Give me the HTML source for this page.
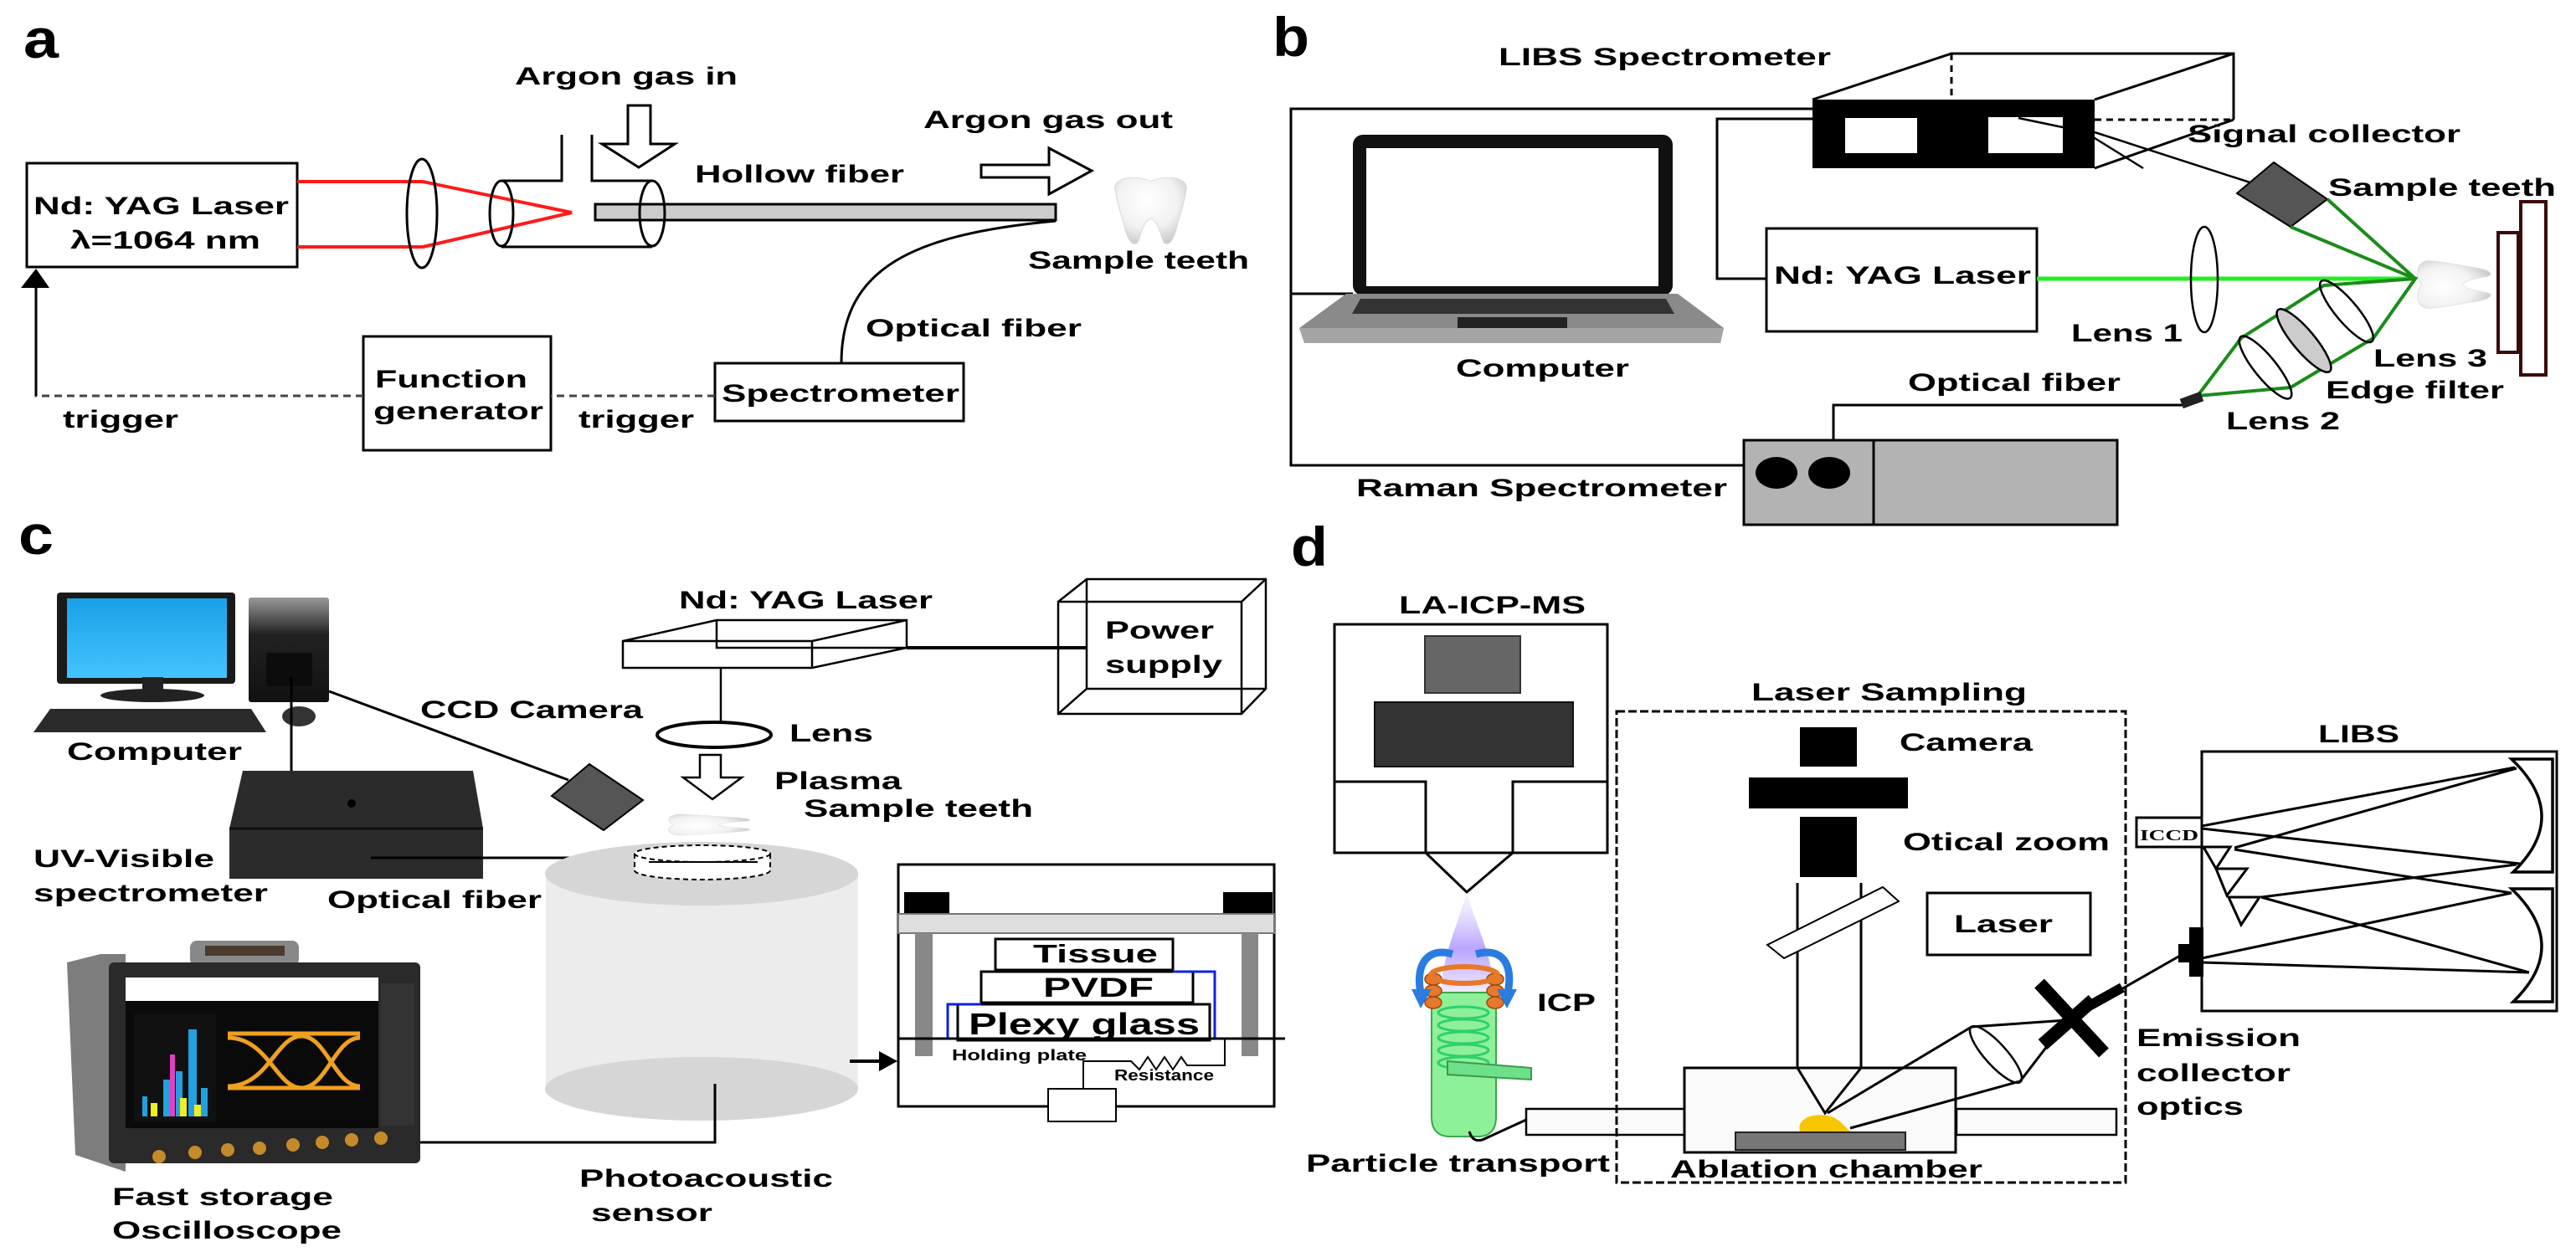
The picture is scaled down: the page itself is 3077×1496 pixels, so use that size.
<!DOCTYPE html>
<html><head><meta charset="utf-8">
<style>
html,body{margin:0;padding:0;background:#fff;}
svg{display:block;}
text{font-family:"Liberation Sans",Arial,sans-serif;font-weight:bold;fill:#000;}
</style></head>
<body>
<svg width="3077" height="1496" viewBox="0 0 3077 1496" xmlns="http://www.w3.org/2000/svg">
<defs>
<radialGradient id="toothG" cx="45%" cy="35%" r="70%">
<stop offset="0" stop-color="#ffffff"/><stop offset="0.6" stop-color="#f2f2f2"/><stop offset="1" stop-color="#c8c8c8"/>
</radialGradient>
<linearGradient id="plasmaG" x1="0" y1="0" x2="0" y2="1">
<stop offset="0" stop-color="#e8e0ff" stop-opacity="0.3"/><stop offset="0.5" stop-color="#b9a4ff"/><stop offset="1" stop-color="#ffffff"/>
</linearGradient>
<linearGradient id="towerG" x1="0" y1="0" x2="0" y2="1">
<stop offset="0" stop-color="#9a9a9a"/><stop offset="0.35" stop-color="#222"/><stop offset="1" stop-color="#111"/>
</linearGradient>
<linearGradient id="screenG" x1="0" y1="0" x2="0" y2="1">
<stop offset="0" stop-color="#1aa0e8"/><stop offset="1" stop-color="#44c4ff"/>
</linearGradient>
<path id="tooth" d="M10,22 C4,2 34,-2 50,8 C66,-2 96,2 90,22 C88,40 84,52 80,70 C77,90 70,100 65,94 C61,84 60,66 50,60 C40,66 39,84 35,94 C30,100 23,90 20,70 C16,52 12,40 10,22 Z"/>
</defs>

<g fill="none" stroke="#000" stroke-width="3">
<!-- ================= PANEL A ================= -->
<rect x="32" y="195" width="323" height="124"/>
<polyline points="355,217 505,217 683,254 505,295 355,295" stroke="#ff1a1a" stroke-width="4"/>
<ellipse cx="504" cy="255" rx="18" ry="65"/>
<!-- tube -->
<path d="M599,216 H671 V161 M707,161 V216 H779 M599,295 H779"/>
<ellipse cx="599" cy="255" rx="14" ry="39"/>
<rect x="711" y="244" width="550" height="19" fill="#cccccc"/>
<ellipse cx="779" cy="255" rx="15" ry="39"/>
<polygon points="750,126 777,126 777,172 806,172 763,200 719,172 750,172" fill="#fff"/>
<polygon points="1172,197 1253,197 1253,177 1304,204 1253,232 1253,212 1172,212" fill="#fff"/>
<path d="M1261,264 C1090,280 1005,320 1005,434"/>
<rect x="854" y="434" width="297" height="69"/>
<rect x="434" y="402" width="224" height="136"/>
<path d="M854,473 H658 M434,473 H43 V340" stroke="#444" stroke-dasharray="9,6"/>
<path d="M43,473 V340"/>
</g>
<polygon points="25,344 59,344 43,321" fill="#000"/>
<use href="#tooth" transform="translate(1322,210) scale(1.05,0.85)" fill="url(#toothG)" stroke="#d8d8d8" stroke-width="1"/>

<text x="28" y="69" font-size="66" textLength="42" lengthAdjust="spacingAndGlyphs">a</text>
<text x="40" y="256" font-size="30" textLength="305" lengthAdjust="spacingAndGlyphs">Nd: YAG Laser</text>
<text x="84" y="297" font-size="30" textLength="227" lengthAdjust="spacingAndGlyphs">λ=1064 nm</text>
<text x="615" y="101" font-size="30" textLength="266" lengthAdjust="spacingAndGlyphs">Argon gas in</text>
<text x="830" y="218" font-size="30" textLength="250" lengthAdjust="spacingAndGlyphs">Hollow fiber</text>
<text x="1103" y="153" font-size="30" textLength="298" lengthAdjust="spacingAndGlyphs">Argon gas out</text>
<text x="1228" y="321" font-size="30" textLength="264" lengthAdjust="spacingAndGlyphs">Sample teeth</text>
<text x="1034" y="402" font-size="30" textLength="258" lengthAdjust="spacingAndGlyphs">Optical fiber</text>
<text x="862" y="480" font-size="30" textLength="284" lengthAdjust="spacingAndGlyphs">Spectrometer</text>
<text x="448" y="463" font-size="30" textLength="182" lengthAdjust="spacingAndGlyphs">Function</text>
<text x="446" y="501" font-size="30" textLength="203" lengthAdjust="spacingAndGlyphs">generator</text>
<text x="75" y="511" font-size="30" textLength="138" lengthAdjust="spacingAndGlyphs">trigger</text>
<text x="691" y="511" font-size="30" textLength="138" lengthAdjust="spacingAndGlyphs">trigger</text>

<!-- ================= PANEL B ================= -->
<g fill="none" stroke="#000" stroke-width="3">
<path d="M2165,130 H1542 V556 H2122 M1542,351 H1616"/>
<path d="M2165,142 H2051 V333 H2110"/>
<path d="M2190,553 V484 H2608"/>
<rect x="2110" y="273" width="323" height="123"/>
<!-- 3D box -->
<path d="M2165,119 L2331,64 H2668 V143 M2502,119 L2668,64 M2502,201 L2668,143"/>
<path d="M2331,64 V119 M2502,143 H2668" stroke-dasharray="8,6"/>
<path d="M2502,158 L2700,222" stroke-width="2.5"/>
<path d="M2420,143 L2502,165 L2560,201" stroke-width="2.5"/>
</g>
<rect x="2165" y="119" width="337" height="82" fill="#000"/>
<rect x="2204" y="141" width="86" height="42" fill="#fff"/>
<rect x="2375" y="140" width="89" height="43" fill="#fff"/>
<line x1="2411" y1="141" x2="2502" y2="160" stroke="#000" stroke-width="2.5"/>
<polygon points="2672,231 2716,194 2780,238 2736,271" fill="#555" stroke="#000" stroke-width="2"/>
<!-- laptop -->
<rect x="1616" y="161" width="382" height="192" rx="12" fill="#111"/>
<rect x="1632" y="177" width="349" height="165" fill="#fff"/>
<path d="M1608,351 H2004 L2059,392 L2055,410 H1558 L1552,392 Z" fill="#8a8a8a"/>
<path d="M1552,392 H2059 L2055,410 H1558 Z" fill="#a5a5a5"/>
<path d="M1625,357 H1990 L2000,375 H1615 Z" fill="#333"/>
<rect x="1741" y="379" width="131" height="13" fill="#222"/>
<!-- raman -->
<rect x="2083" y="526" width="446" height="101" fill="#b3b3b3" stroke="#000" stroke-width="3"/>
<line x1="2238" y1="526" x2="2238" y2="627" stroke="#000" stroke-width="3"/>
<ellipse cx="2122" cy="565" rx="25" ry="19" fill="#000"/>
<ellipse cx="2185" cy="565" rx="25" ry="19" fill="#000"/>
<!-- optics -->
<line x1="2433" y1="333" x2="2885" y2="333" stroke="#22ee22" stroke-width="5"/>
<ellipse cx="2633" cy="334" rx="16" ry="63" fill="none" stroke="#000" stroke-width="2.5"/>
<g stroke="#1a8c1a" stroke-width="4" fill="none">
<path d="M2780,238 L2885,333 L2736,271"/>
<path d="M2885,333 L2776,341 L2677,404 L2625,473 L2736,463 L2835,404 Z"/>
</g>
<g fill="none" stroke="#000" stroke-width="2.5">
<ellipse cx="2803" cy="372" rx="47" ry="13" transform="rotate(50 2803 372)"/>
<ellipse cx="2752" cy="407" rx="48" ry="13" transform="rotate(50 2752 407)" fill="#cccccc"/>
<ellipse cx="2706" cy="439" rx="47" ry="13" transform="rotate(51 2706 439)"/>
</g>
<rect x="2605" y="472" width="26" height="12" fill="#222" transform="rotate(-20 2618 478)"/>
<rect x="3011" y="241" width="30" height="207" fill="#fff" stroke="#3a0a0a" stroke-width="4"/>
<rect x="2984" y="278" width="24" height="143" fill="#fff" stroke="#3a0a0a" stroke-width="4"/>
<use href="#tooth" transform="translate(2885,375) rotate(-90) scale(0.7,0.94)" fill="url(#toothG)" stroke="#ddd" stroke-width="1"/>

<text x="1520" y="67" font-size="66" textLength="44" lengthAdjust="spacingAndGlyphs">b</text>
<text x="1790" y="78" font-size="30" textLength="397" lengthAdjust="spacingAndGlyphs">LIBS Spectrometer</text>
<text x="1739" y="450" font-size="30" textLength="207" lengthAdjust="spacingAndGlyphs">Computer</text>
<text x="1620" y="593" font-size="30" textLength="443" lengthAdjust="spacingAndGlyphs">Raman Spectrometer</text>
<text x="2119" y="339" font-size="30" textLength="307" lengthAdjust="spacingAndGlyphs">Nd: YAG Laser</text>
<text x="2613" y="170" font-size="30" textLength="326" lengthAdjust="spacingAndGlyphs">Signal collector</text>
<text x="2781" y="234" font-size="30" textLength="272" lengthAdjust="spacingAndGlyphs">Sample teeth</text>
<text x="2474" y="408" font-size="30" textLength="133" lengthAdjust="spacingAndGlyphs">Lens 1</text>
<text x="2279" y="467" font-size="30" textLength="254" lengthAdjust="spacingAndGlyphs">Optical fiber</text>
<text x="2835" y="438" font-size="30" textLength="136" lengthAdjust="spacingAndGlyphs">Lens 3</text>
<text x="2778" y="476" font-size="30" textLength="213" lengthAdjust="spacingAndGlyphs">Edge filter</text>
<text x="2659" y="513" font-size="30" textLength="136" lengthAdjust="spacingAndGlyphs">Lens 2</text>

<!-- ================= PANEL C ================= -->
<!-- computer -->
<rect x="68" y="708" width="213" height="109" rx="4" fill="#1a1a1a"/>
<rect x="80" y="715" width="191" height="95" fill="url(#screenG)"/>
<rect x="170" y="809" width="25" height="17" fill="#222"/>
<ellipse cx="182" cy="831" rx="62" ry="8" fill="#222"/>
<path d="M60,847 H300 L318,875 H40 Z" fill="#2a2a2a"/>
<rect x="297" y="714" width="96" height="125" rx="3" fill="url(#towerG)"/>
<rect x="318" y="780" width="55" height="40" fill="#0c0c0c"/>
<ellipse cx="357" cy="856" rx="20" ry="12" fill="#333"/>
<g stroke="#000" stroke-width="3" fill="none">
<line x1="348" y1="809" x2="348" y2="924"/>
<line x1="393" y1="826" x2="679" y2="932"/>
</g>
<polygon points="659,951 704,913 768,956 721,992" fill="#555" stroke="#000" stroke-width="2"/>
<!-- UV spectrometer -->
<path d="M290,921 H565 L577,990 V1050 H274 V990 Z" fill="#2b2b2b"/>
<path d="M274,990 H577" stroke="#111" stroke-width="3"/>
<circle cx="420" cy="960" r="5" fill="#000"/>
<line x1="443" y1="1025" x2="761" y2="1025" stroke="#000" stroke-width="3"/>
<!-- laser 3D -->
<g fill="none" stroke="#000" stroke-width="2.5">
<path d="M744,766 L856,741 H1083 V774 L970,798 H744 Z M744,766 H970 L1083,741 M970,766 V798 M856,741 V774 H1083"/>
<line x1="1083" y1="774" x2="1298" y2="774" stroke-width="4"/>
<line x1="861" y1="798" x2="861" y2="862"/>
<ellipse cx="853" cy="878" rx="68" ry="15" stroke-width="4"/>
<path d="M1264,719 L1298,692 H1512 V823 L1483,853 H1264 Z M1264,719 H1483 L1512,692 M1483,719 V853 M1298,692 V823 H1512 M1264,853 L1298,823"/>
<polygon points="836,902 861,902 861,929 886,929 851,955 816,929 836,929" fill="#fff"/>
</g>
<use href="#tooth" transform="translate(796,1001) rotate(-90) scale(0.31,1.04)" fill="url(#toothG)" stroke="#ddd" stroke-width="1"/>
<!-- cylinder -->
<path d="M652,1044 V1301 A187,38 0 0 0 1025,1301 V1044 Z" fill="#ececec"/>
<ellipse cx="838" cy="1044" rx="187" ry="38" fill="#d6d6d6"/>
<ellipse cx="838" cy="1301" rx="187" ry="38" fill="#d6d6d6"/>
<path d="M758,1020 V1040 A81,11 0 0 0 920,1040 V1020" fill="#fff" stroke="#000" stroke-width="2" stroke-dasharray="6,4"/>
<ellipse cx="839" cy="1020" rx="81" ry="10" fill="#fff" stroke="#000" stroke-width="2" stroke-dasharray="6,4"/>
<line x1="775" y1="1030" x2="905" y2="1030" stroke="#000" stroke-width="2"/>
<path d="M854,1295 V1365 H194" fill="none" stroke="#000" stroke-width="3"/>
<!-- oscilloscope -->
<path d="M80,1150 L120,1140 L150,1140 V1400 L90,1380 Z" fill="#7d7d7d"/>
<rect x="227" y="1124" width="130" height="30" rx="8" fill="#888"/>
<rect x="245" y="1130" width="95" height="12" fill="#4a3a30"/>
<rect x="130" y="1150" width="372" height="240" rx="6" fill="#2a2a2a"/>
<rect x="150" y="1168" width="302" height="180" fill="#0a0a0a"/>
<rect x="150" y="1168" width="302" height="28" fill="#fff"/>
<rect x="160" y="1212" width="98" height="128" fill="#111"/>
<g fill="#22a0e0"><rect x="225" y="1230" width="10" height="104"/><rect x="210" y="1280" width="8" height="54"/><rect x="195" y="1290" width="8" height="44"/><rect x="170" y="1310" width="6" height="24"/><rect x="240" y="1300" width="8" height="34"/></g>
<rect x="203" y="1260" width="6" height="74" fill="#e040c0"/>
<g fill="#eeee20"><rect x="180" y="1318" width="8" height="16"/><rect x="215" y="1312" width="8" height="22"/><rect x="232" y="1320" width="8" height="14"/></g>
<g fill="none" stroke="#f0a020" stroke-width="5"><path d="M272,1235 H430 M272,1300 H430 M272,1240 C320,1240 330,1300 360,1300 C390,1300 400,1240 430,1240 M272,1298 C320,1298 330,1238 360,1238 C390,1238 400,1298 430,1298"/></g>
<rect x="455" y="1175" width="40" height="170" fill="#333"/>
<g fill="#c58a2a"><circle cx="190" cy="1382" r="8"/><circle cx="233" cy="1377" r="8"/><circle cx="272" cy="1374" r="8"/><circle cx="310" cy="1372" r="8"/><circle cx="350" cy="1368" r="8"/><circle cx="385" cy="1365" r="8"/><circle cx="420" cy="1362" r="8"/><circle cx="455" cy="1360" r="8"/></g>
<!-- arrow to box -->
<line x1="1015" y1="1268" x2="1052" y2="1268" stroke="#000" stroke-width="4"/>
<polygon points="1050,1256 1072,1268 1050,1280" fill="#000"/>
<!-- right box -->
<rect x="1073" y="1033" width="449" height="289" fill="#fff" stroke="#000" stroke-width="3"/>
<rect x="1080" y="1066" width="54" height="26" fill="#000"/>
<rect x="1461" y="1066" width="59" height="26" fill="#000"/>
<rect x="1073" y="1092" width="449" height="23" fill="#dedede" stroke="#777" stroke-width="2"/>
<rect x="1093" y="1115" width="21" height="147" fill="#888"/>
<rect x="1483" y="1115" width="20" height="147" fill="#888"/>
<g fill="#fff" stroke="#000" stroke-width="3">
<rect x="1189" y="1122" width="212" height="37"/>
<rect x="1172" y="1161" width="253" height="37"/>
<rect x="1144" y="1200" width="301" height="43"/>
</g>
<path d="M1401,1161 H1451 V1241 H1470 M1172,1200 H1132 V1241 H1115" fill="none" stroke="#1020e0" stroke-width="3"/>
<line x1="1073" y1="1241" x2="1535" y2="1241" stroke="#000" stroke-width="3"/>
<path d="M1463,1241 V1273 H1418 L1411,1263 L1401,1278 L1391,1263 L1381,1278 L1371,1263 L1361,1278 L1351,1268 H1294 V1301" fill="none" stroke="#000" stroke-width="2"/>
<rect x="1252" y="1301" width="81" height="39" fill="#fff" stroke="#000" stroke-width="2"/>

<text x="22" y="662" font-size="66" textLength="42" lengthAdjust="spacingAndGlyphs">c</text>
<text x="80" y="908" font-size="30" textLength="209" lengthAdjust="spacingAndGlyphs">Computer</text>
<text x="502" y="858" font-size="30" textLength="266" lengthAdjust="spacingAndGlyphs">CCD Camera</text>
<text x="40" y="1036" font-size="30" textLength="216" lengthAdjust="spacingAndGlyphs">UV-Visible</text>
<text x="40" y="1077" font-size="30" textLength="280" lengthAdjust="spacingAndGlyphs">spectrometer</text>
<text x="391" y="1085" font-size="30" textLength="256" lengthAdjust="spacingAndGlyphs">Optical fiber</text>
<text x="811" y="727" font-size="30" textLength="303" lengthAdjust="spacingAndGlyphs">Nd: YAG Laser</text>
<text x="1320" y="763" font-size="30" textLength="130" lengthAdjust="spacingAndGlyphs">Power</text>
<text x="1320" y="804" font-size="30" textLength="140" lengthAdjust="spacingAndGlyphs">supply</text>
<text x="943" y="886" font-size="30" textLength="100" lengthAdjust="spacingAndGlyphs">Lens</text>
<text x="925" y="943" font-size="30" textLength="152" lengthAdjust="spacingAndGlyphs">Plasma</text>
<text x="960" y="976" font-size="30" textLength="274" lengthAdjust="spacingAndGlyphs">Sample teeth</text>
<text x="134" y="1440" font-size="30" textLength="264" lengthAdjust="spacingAndGlyphs">Fast storage</text>
<text x="134" y="1480" font-size="30" textLength="274" lengthAdjust="spacingAndGlyphs">Oscilloscope</text>
<text x="692" y="1418" font-size="30" textLength="303" lengthAdjust="spacingAndGlyphs">Photoacoustic</text>
<text x="706" y="1459" font-size="30" textLength="145" lengthAdjust="spacingAndGlyphs">sensor</text>
<text x="1234" y="1150" font-size="31" textLength="149" lengthAdjust="spacingAndGlyphs">Tissue</text>
<text x="1246" y="1191" font-size="32" textLength="132" lengthAdjust="spacingAndGlyphs">PVDF</text>
<text x="1157" y="1236" font-size="36" textLength="276" lengthAdjust="spacingAndGlyphs">Plexy glass</text>
<text x="1137" y="1267" font-size="18" textLength="161" lengthAdjust="spacingAndGlyphs">Holding plate</text>
<text x="1331" y="1291" font-size="18" textLength="119" lengthAdjust="spacingAndGlyphs">Resistance</text>

<!-- ================= PANEL D ================= -->
<rect x="1594" y="746" width="326" height="273" fill="#fff" stroke="#000" stroke-width="3"/>
<rect x="1702" y="760" width="114" height="68" fill="#666" stroke="#333" stroke-width="2"/>
<rect x="1642" y="839" width="237" height="77" fill="#333" stroke="#111" stroke-width="2"/>
<path d="M1594,934 H1703 V1019 L1752,1066 L1807,1019 V934 H1920" fill="none" stroke="#000" stroke-width="3"/>
<!-- plasma + torch -->
<path d="M1752,1066 C1740,1110 1718,1150 1722,1200 H1784 C1788,1150 1764,1110 1752,1066 Z" fill="url(#plasmaG)"/>
<path d="M1710,1186 H1787 V1335 Q1787,1356 1768,1358 H1729 Q1710,1356 1710,1335 Z" fill="#8ff09a" stroke="#3aa84a" stroke-width="2"/>
<g fill="none" stroke="#2ed070" stroke-width="3"><ellipse cx="1748" cy="1210" rx="30" ry="7"/><ellipse cx="1748" cy="1225" rx="30" ry="7"/><ellipse cx="1748" cy="1240" rx="30" ry="7"/><ellipse cx="1748" cy="1255" rx="30" ry="7"/><ellipse cx="1748" cy="1270" rx="30" ry="7"/></g>
<polygon points="1729,1268 1829,1276 1829,1290 1729,1284" fill="#6fe08a" stroke="#3a9a4a" stroke-width="2"/>
<g fill="#e8782a" stroke="#9a4a10" stroke-width="1.5"><ellipse cx="1712" cy="1170" rx="10" ry="7"/><ellipse cx="1712" cy="1184" rx="10" ry="7"/><ellipse cx="1712" cy="1198" rx="10" ry="7"/><ellipse cx="1786" cy="1170" rx="10" ry="7"/><ellipse cx="1786" cy="1184" rx="10" ry="7"/><ellipse cx="1786" cy="1198" rx="10" ry="7"/></g>
<ellipse cx="1749" cy="1165" rx="40" ry="10" fill="none" stroke="#e8782a" stroke-width="6"/>
<g fill="none" stroke="#2a7ce0" stroke-width="9"><path d="M1735,1140 C1700,1130 1690,1160 1698,1190"/><path d="M1763,1140 C1800,1130 1808,1160 1800,1190"/></g>
<polygon points="1686,1182 1710,1182 1697,1205" fill="#2a7ce0"/>
<polygon points="1788,1182 1812,1182 1800,1205" fill="#2a7ce0"/>
<path d="M1755,1352 Q1760,1368 1775,1360 L1823,1338" fill="none" stroke="#000" stroke-width="3"/>
<!-- transport tubes -->
<rect x="1823" y="1325" width="190" height="31" fill="#fafafa" stroke="#000" stroke-width="2.5"/>
<rect x="2337" y="1325" width="191" height="31" fill="#fafafa" stroke="#000" stroke-width="2.5"/>
<!-- dashed box -->
<rect x="1931" y="850" width="608" height="563" fill="none" stroke="#000" stroke-width="3" stroke-dasharray="10,4"/>
<rect x="2150" y="869" width="68" height="47" fill="#000"/>
<rect x="2089" y="929" width="190" height="37" fill="#000"/>
<rect x="2150" y="976" width="68" height="72" fill="#000"/>
<g stroke="#000" stroke-width="3" fill="none">
<line x1="2147" y1="1055" x2="2147" y2="1276"/>
<line x1="2223" y1="1055" x2="2223" y2="1276"/>
<polygon points="2111,1129 2249,1060 2268,1077 2131,1145" fill="#fff" stroke-width="2"/>
<rect x="2302" y="1067" width="195" height="74" fill="#fff"/>
<rect x="2012" y="1276" width="324" height="101" fill="#fafafa"/>
<path d="M2147,1276 L2180,1330 L2223,1276"/>
<path d="M2183,1330 L2355,1227 L2469,1219 M2210,1348 L2413,1292 L2469,1219"/>
<path d="M2469,1219 L2604,1142"/>
</g>
<rect x="2073" y="1353" width="203" height="21" fill="#777" stroke="#222" stroke-width="2"/>
<path d="M2150,1352 C2145,1335 2170,1328 2190,1335 C2200,1340 2205,1348 2210,1352 Z" fill="#f7c600"/>
<ellipse cx="2384" cy="1260" rx="44" ry="13" transform="rotate(48 2384 1260)" fill="none" stroke="#000" stroke-width="2.5"/>
<line x1="2436" y1="1175" x2="2513" y2="1258" stroke="#000" stroke-width="16"/>
<line x1="2440" y1="1248" x2="2500" y2="1195" stroke="#000" stroke-width="16"/>
<line x1="2490" y1="1205" x2="2535" y2="1180" stroke="#000" stroke-width="12"/>
<!-- LIBS -->
<rect x="2630" y="898" width="424" height="310" fill="#fff" stroke="#000" stroke-width="3"/>
<rect x="2552" y="977" width="78" height="35" fill="#fff" stroke="#000" stroke-width="3"/>
<path d="M3000,907 H3049 V1042 H3002 Q3071,975 3000,907 Z" fill="#fff" stroke="#000" stroke-width="3.5"/>
<path d="M3000,1062 H3049 V1197 H3002 Q3071,1130 3000,1062 Z" fill="#fff" stroke="#000" stroke-width="3.5"/>
<g fill="#fff" stroke="#000" stroke-width="3">
<polygon points="2632,1012 2664,1012 2647,1038"/>
<polygon points="2647,1038 2684,1038 2660,1070"/>
<polygon points="2662,1072 2699,1072 2677,1105"/>
</g>
<g stroke="#000" stroke-width="3" fill="none">
<path d="M2630,987 L3004,917 M2630,990 L3010,1032 M2669,1013 L3006,918 M2669,1015 L3000,1067 M2701,1072 L3006,1033 M2701,1072 L3021,1162 M2630,1145 L3000,1067 M2630,1150 L3021,1162"/>
</g>
<polygon points="2615,1108 2632,1108 2632,1167 2615,1167 2615,1150 2602,1150 2602,1128 2615,1128" fill="#000"/>

<text x="1542" y="676" font-size="66" textLength="44" lengthAdjust="spacingAndGlyphs">d</text>
<text x="1671" y="733" font-size="30" textLength="223" lengthAdjust="spacingAndGlyphs">LA-ICP-MS</text>
<text x="2092" y="837" font-size="30" textLength="329" lengthAdjust="spacingAndGlyphs">Laser Sampling</text>
<text x="2269" y="897" font-size="30" textLength="159" lengthAdjust="spacingAndGlyphs">Camera</text>
<text x="2273" y="1016" font-size="30" textLength="247" lengthAdjust="spacingAndGlyphs">Otical zoom</text>
<text x="2334" y="1114" font-size="30" textLength="118" lengthAdjust="spacingAndGlyphs">Laser</text>
<text x="2769" y="887" font-size="30" textLength="97" lengthAdjust="spacingAndGlyphs">LIBS</text>
<text x="2556" y="1004" font-size="18" textLength="70" lengthAdjust="spacingAndGlyphs" style="font-family:'Liberation Serif',serif">ICCD</text>
<text x="1836" y="1208" font-size="30" textLength="70" lengthAdjust="spacingAndGlyphs">ICP</text>
<text x="2552" y="1250" font-size="30" textLength="196" lengthAdjust="spacingAndGlyphs">Emission</text>
<text x="2552" y="1292" font-size="30" textLength="184" lengthAdjust="spacingAndGlyphs">collector</text>
<text x="2552" y="1332" font-size="30" textLength="128" lengthAdjust="spacingAndGlyphs">optics</text>
<text x="1560" y="1400" font-size="30" textLength="363" lengthAdjust="spacingAndGlyphs">Particle transport</text>
<text x="1995" y="1407" font-size="30" textLength="373" lengthAdjust="spacingAndGlyphs">Ablation chamber</text>
</svg>
</body></html>
